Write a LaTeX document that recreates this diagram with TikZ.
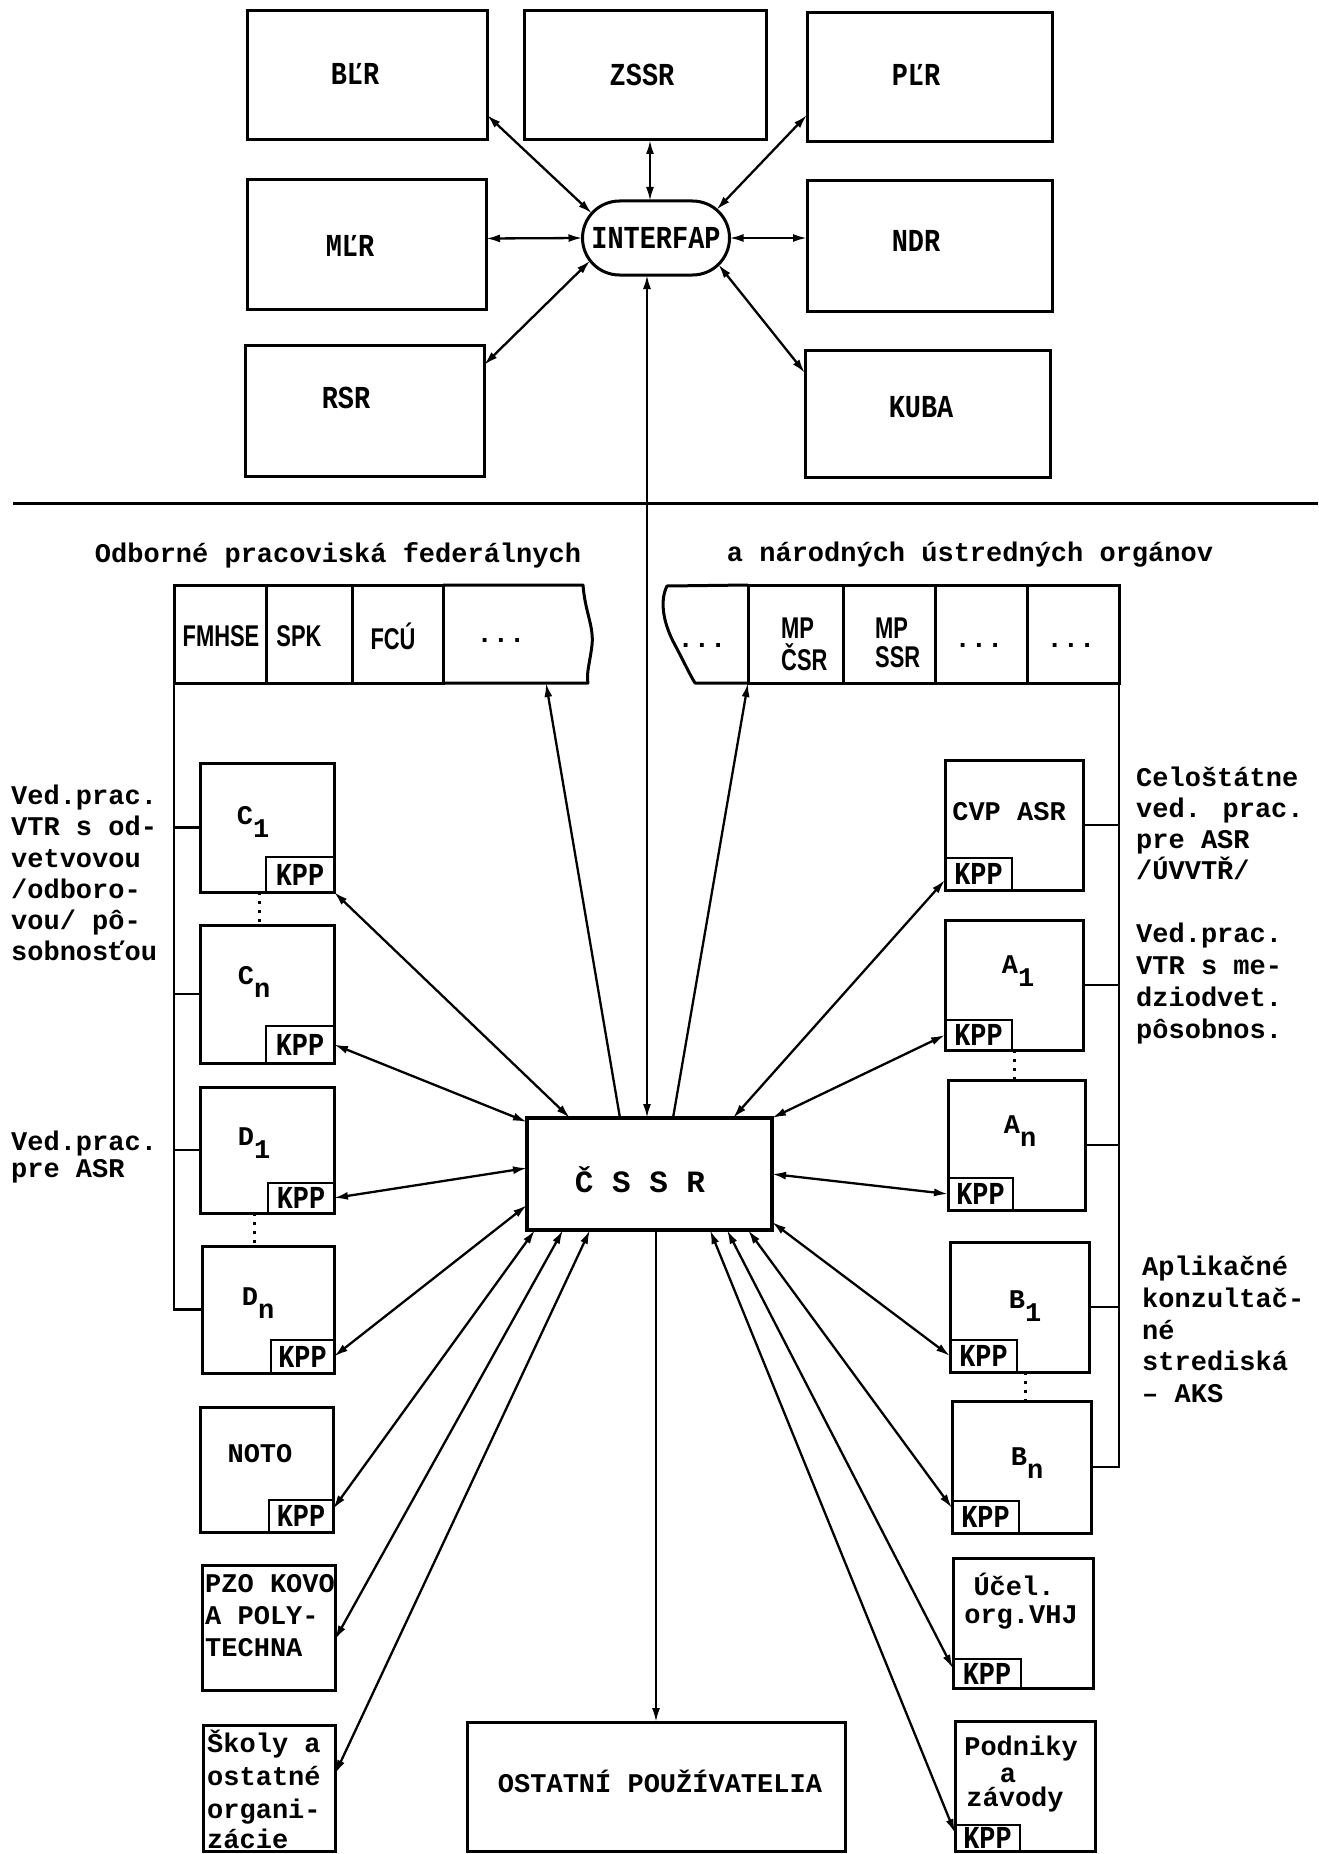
\documentclass[tikz,border=0pt]{standalone}
\usepackage{fontspec}
\newfontfamily\tw{Liberation Mono}
\newfontfamily\cnd{Liberation Mono}[FakeStretch=0.84]
\newfontfamily\nsans{Liberation Sans}[FakeStretch=0.73]
\usetikzlibrary{arrows.meta,shapes.misc,calc}
\newcommand\mkbox[7][]{\node[box,minimum width={(#4)-(#2)},minimum height={(#5)-(#3)},#1] (#6) at ({((#2)+(#4))/2},{((#3)+(#5))/2}) {#7};}
\newcommand\lowsub[1]{\raisebox{-13pt}{#1}}
\tikzset{
 box/.style={draw,line width=3pt,rectangle,inner sep=0pt,outer sep=0pt},
 kbox/.style={line width=2.5pt,font=\cnd\bfseries\fontsize{32}{32}\selectfont},
 cl/.style={inner sep=0pt,font=\cnd\bfseries\fontsize{32}{32}\selectfont},
 tt/.style={inner sep=0pt,font=\tw\bfseries\fontsize{27}{31}\selectfont},
 tl/.style={tt,anchor=mid west},
 ss/.style={inner sep=0pt,font=\nsans\bfseries\fontsize{30}{30}\selectfont},
 con/.style={line width=2.3pt},
 bus/.style={line width=2.4pt},
 frame/.style={line width=3pt,line join=round},
 dots/.style={line width=3pt,dash pattern=on 3pt off 6pt},
}
\begin{document}
\begin{tikzpicture}[x=1pt,y=-1pt,>={Latex[length=14pt,width=8pt]}]
\useasboundingbox (0,0) rectangle (1318,1854);
\fill[white] (0,0) rectangle (1318,1854);

% ---------------- top part ----------------
\mkbox{247}{11}{487}{140}{bl}{}
\mkbox{524}{11}{766}{140}{zs}{}
\mkbox{807}{13}{1052}{142}{pl}{}
\mkbox{247}{180}{486}{309}{ml}{}
\mkbox{807}{181}{1052}{311}{nd}{}
\mkbox{245}{345}{484}{476}{rs}{}
\mkbox{805}{350}{1050}{477}{ku}{}
\node[cl] (tbl) at (355,74) {BĽR};
\node[cl] (tzs) at (642,75) {ZSSR};
\node[cl] (tpl) at (916,75) {PĽR};
\node[cl] (tml) at (350,246) {MĽR};
\node[cl] (tnd) at (916,241) {NDR};
\node[cl] (trs) at (346,398) {RSR};
\node[cl] (tku) at (921,407) {KUBA};
\node[draw,rounded rectangle,line width=3pt,minimum width=147pt,minimum height=74pt,outer sep=0pt,cl] (inter) at (656,238) {INTERFAP};

\draw[<->,con] ($(bl.south east)+(0,-25)$) -- (inter.159);
\draw[<->,con] ($(zs.south)+(5,0)$) -- ($(inter.north)+(-6,0)$);
\draw[<->,con] ($(pl.south west)+(0,-27)$) -- (inter.25);
\draw[<->,con] ($(ml.east)+(0,-6)$) -- (inter.west);
\draw[<->,con] ($(nd.west)+(0,-8)$) -- (inter.east);
\draw[<->,con] ($(rs.north east)+(0,20)$) -- (inter.199);
\draw[<->,con] ($(ku.north west)+(0,23)$) -- (inter.337);

\draw[line width=3pt] (13,503) coordinate (hlA) -- (1318,503) coordinate (hlB);

% ---------------- headers ----------------
\node[tt] (hfed) at (338,555) {Odborné pracoviská federálnych};
\node[tt] (hnat) at (970,555) {a národných ústredných orgánov};

% federal row
\mkbox{174}{585}{266}{683}{f1}{}
\mkbox{266}{585}{352}{683}{f2}{}
\mkbox{352}{585}{443}{683}{f3}{}
\draw[frame] (f3.north east) -- (583,585) .. controls (585,612) and (594,626) .. (592,645) .. controls (590,662) and (586,674) .. (588,683) -- (f3.south east);
\coordinate (fedA) at (546,683);
\node[ss] (tf1) at (221,636) {FMHSE};
\node[ss] (tf2) at (299,636) {SPK};
\node[ss] (tf3) at (393,636) {FCÚ};
\node[tt] (tf4) at (501,640) {...};

% national row
\mkbox{748}{585}{843}{683}{n2}{}
\mkbox{843}{585}{935}{683}{n3}{}
\mkbox{935}{585}{1027}{683}{n4}{}
\mkbox{1027}{585}{1119}{683}{n5}{}
\draw[frame] (n2.north west) -- (667,586) .. controls (659,602) and (664,625) .. (675,645) .. controls (684,662) and (690,675) .. (695,683) -- (n2.south west);
\coordinate (natA) at (748,683);
\node[tt] (tn1) at (702,645) {...};
\node[ss,anchor=west] (tn2a) at (781,628) {MP};
\node[ss,anchor=west] (tn2b) at (781,657) {ČSR};
\node[ss,anchor=west] (tn3a) at (875,628) {MP};
\node[ss,anchor=west] (tn3b) at (875,657) {SSR};
\node[tt] (tn4) at (979,645) {...};
\node[tt] (tn5) at (1071,645) {...};

% ---------------- left column ----------------
\mkbox{200}{763}{334}{892}{c1}{}
\mkbox[kbox]{266}{857}{334}{892}{c1k}{KPP}
\mkbox{200}{925}{334}{1063}{cn}{}
\mkbox[kbox]{266}{1026}{334}{1063}{cnk}{KPP}
\mkbox{200}{1087}{334}{1213}{d1}{}
\mkbox[kbox]{268}{1183}{334}{1213}{d1k}{KPP}
\mkbox{202}{1246}{334}{1373}{dn}{}
\mkbox[kbox]{271}{1340}{334}{1373}{dnk}{KPP}
\mkbox{200}{1407}{333}{1532}{noto}{}
\mkbox[kbox]{269}{1500}{333}{1532}{notok}{KPP}
\mkbox{202}{1565}{335}{1690}{pzo}{}
\mkbox{203}{1725}{335}{1851}{skoly}{}

\node[tt] (tc1) at (253,822) {C\lowsub{1}};
\node[tt] (tcn) at (254,982) {C\lowsub{n}};
\node[tt] (td1) at (254,1143) {D\lowsub{1}};
\node[tt] (tdn) at (258,1303) {D\lowsub{n}};
\node[tt] (tnoto) at (260,1454) {NOTO};
\node[tl] (tpz1) at (205,1590) {PZO KOVO};
\node[tl] (tpz2) at (205,1622) {A POLY-};
\node[tl] (tpz3) at (205,1654) {TECHNA};
\node[tl] (tsk1) at (207,1750) {Školy a};
\node[tl] (tsk2) at (207,1783) {ostatné};
\node[tl] (tsk3) at (207,1816) {organi-};
\node[tl] (tsk4) at (207,1846) {zácie};

\draw[bus] (f1.south west) |- (dn.west);
\draw[bus] (c1.west) -- (c1.west -| f1.south west);
\draw[bus] (cn.west) -- (cn.west -| f1.south west);
\draw[bus] (d1.west) -- (d1.west -| f1.south west);
\draw[dots] ($(c1.south west)+(59,0)$) -- ($(cn.north west)+(59,0)$);
\draw[dots] ($(d1.south west)+(54,0)$) -- ($(dn.north west)+(52,0)$);

\node[tl] (lt1) at (11,802) {Ved.prac.};
\node[tl] (lt2) at (11,833) {VTR s od-};
\node[tl] (lt3) at (11,865) {vetvovou};
\node[tl] (lt4) at (11,896) {/odboro-};
\node[tl] (lt5) at (11,927) {vou/ pô-};
\node[tl] (lt6) at (11,958) {sobnosťou};
\node[tl] (lt7) at (11,1148) {Ved.prac.};
\node[tl] (lt8) at (11,1175) {pre ASR};

% ---------------- right column ----------------
\mkbox{945}{760}{1083}{890}{cvp}{}
\mkbox[kbox]{945}{858}{1012}{890}{cvpk}{KPP}
\mkbox{945}{920}{1083}{1050}{a1}{}
\mkbox[kbox]{945}{1020}{1012}{1050}{a1k}{KPP}
\mkbox{948}{1080}{1085}{1210}{an}{}
\mkbox[kbox]{948}{1178}{1013}{1210}{ank}{KPP}
\mkbox{950}{1242}{1089}{1372}{b1}{}
\mkbox[kbox]{950}{1340}{1017}{1372}{b1k}{KPP}
\mkbox{952}{1401}{1091}{1533}{bn}{}
\mkbox[kbox]{952}{1501}{1019}{1533}{bnk}{KPP}
\mkbox{953}{1558}{1093}{1688}{ucel}{}
\mkbox[kbox]{953}{1659}{1021}{1688}{ucelk}{KPP}
\mkbox{955}{1721}{1095}{1851}{pod}{}
\mkbox[kbox]{955}{1825}{1020}{1851}{podk}{KPP}

\node[tt] (tcvp) at (1009,812) {CVP ASR};
\node[tt] (ta1) at (1018,971) {A\lowsub{1}};
\node[tt] (tan) at (1020,1131) {A\lowsub{n}};
\node[tt] (tb1) at (1025,1306) {B\lowsub{1}};
\node[tt] (tbn) at (1027,1463) {B\lowsub{n}};
\node[tt] (tuc1) at (1014,1584) {Účel.};
\node[tt] (tuc2) at (1021,1617) {org.VHJ};
\node[tt] (tpo1) at (1021,1748) {Podniky};
\node[tt] (tpo2) at (1008,1775) {a};
\node[tt] (tpo3) at (1015,1799) {závody};

\draw[bus] (n5.south east) |- (bn.east);
\draw[bus] (cvp.east) -- (cvp.east -| n5.south east);
\draw[bus] (a1.east) -- (a1.east -| n5.south east);
\draw[bus] (an.east) -- (an.east -| n5.south east);
\draw[bus] (b1.east) -- (b1.east -| n5.south east);
\draw[dots] ($(a1.south west)+(69,0)$) -- ($(an.north west)+(66,0)$);
\draw[dots] ($(b1.south west)+(75,0)$) -- ($(bn.north west)+(73,0)$);

\node[tl] (rt1) at (1136,784) {Celoštátne};
\node[tl] (rt2) at (1136,815) {ved. prac.};
\node[tl] (rt3) at (1136,846) {pre ASR};
\node[tl] (rt4) at (1136,877) {/ÚVVTŘ/};
\node[tl] (rt5) at (1136,940) {Ved.prac.};
\node[tl] (rt6) at (1136,972) {VTR s me-};
\node[tl] (rt7) at (1136,1004) {dziodvet.};
\node[tl] (rt8) at (1136,1036) {pôsobnos.};
\node[tl] (rt9) at (1142,1273) {Aplikačné};
\node[tl] (rt10) at (1142,1305) {konzultač-};
\node[tl] (rt11) at (1142,1337) {né};
\node[tl] (rt12) at (1142,1368) {strediská};
\node[tl] (rt13) at (1142,1400) {– AKS};

% ---------------- centre ----------------
\mkbox[line width=4pt]{527}{1118}{772}{1230}{cssr}{}
\node[inner sep=0pt,font=\tw\bfseries\fontsize{31}{31}\selectfont] (tcs) at (640,1180) {Č S S R};
\mkbox{467}{1722}{845}{1851}{ost}{}
\node[tt] (tost) at (660,1781) {OSTATNÍ POUŽÍVATELIA};

\draw[<->,con] ($(inter.south)+(-9,0)$) -- ($(cssr.north west)+(120,0)$);
\draw[<-,con] (fedA) -- ($(cssr.north west)+(93,0)$);
\draw[<-,con] (natA) -- ($(cssr.north west)+(146,0)$);

\draw[<->,con] (c1k.south east) -- ($(cssr.north west)+(43,0)$);
\draw[<->,con] (cnk.east) -- ($(cssr.north west)+(0,4)$);
\draw[<->,con] (d1k.east) -- ($(cssr.north west)+(0,50)$);
\draw[<->,con] (dnk.east) -- ($(cssr.north west)+(0,87)$);
\draw[<->,con] ($(notok.east)+(0,-7)$) -- ($(cssr.south west)+(8,0)$);
\draw[<->,con] ($(pzo.east)+(0,12)$) -- ($(cssr.south west)+(36,0)$);
\draw[<->,con] ($(skoly.north east)+(0,49)$) -- ($(cssr.south west)+(63,0)$);
\draw[->,con] ($(cssr.south west)+(129,0)$) -- ($(ost.north west)+(189,0)$);
\draw[<->,con] ($(podk.west)+(0,-5)$) -- ($(cssr.south west)+(183,0)$);
\draw[<->,con] ($(ucelk.west)+(0,-5)$) -- ($(cssr.south west)+(200,0)$);
\draw[<->,con] ($(bnk.west)+(0,-9)$) -- ($(cssr.south west)+(221,0)$);
\draw[<->,con] (b1k.west) -- ($(cssr.south east)+(0,-8)$);
\draw[<->,con] (ank.west) -- (cssr.east);
\draw[<->,con] (a1k.west) -- (cssr.north east);
\draw[<->,con] ($(cvpk.west)+(0,6)$) -- ($(cssr.north west)+(206,0)$);
\end{tikzpicture}
\end{document}
